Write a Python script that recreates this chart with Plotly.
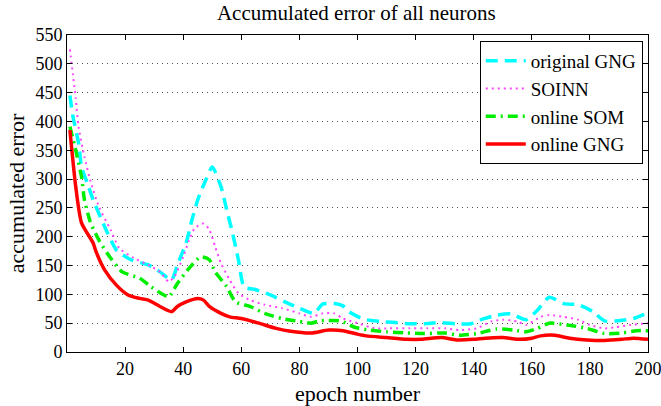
import plotly.graph_objects as go

# ---- data ----
gng_orig_x = [1, 2, 4, 5, 7, 9, 13, 17, 22, 28, 32, 36, 38, 41, 43, 45, 48, 50, 53, 55, 57, 59, 61, 65, 70, 75, 80, 85, 88, 92, 95, 97, 102, 108, 113, 118, 123, 128, 134, 139, 143, 148, 153, 158, 162, 166, 171, 176, 181, 185, 189, 195, 200]
gng_orig_y = [445, 410, 362, 321, 293, 264, 217, 177, 160, 151, 139, 125, 151, 189, 229, 264, 301, 321, 287, 246, 206, 160, 113, 108, 99, 87, 76, 67, 83, 84, 80, 70, 57, 53, 51, 49, 49, 51, 49, 49, 57, 64, 66, 56, 73, 95, 84, 82, 70, 54, 54, 58, 68]

soinn_x = [1, 2, 3, 4, 6, 8, 11, 15, 18, 23, 28, 32, 35, 37, 40, 42, 44, 47, 49, 51, 53, 56, 59, 63, 68, 74, 80, 84, 88, 92, 95, 100, 106, 111, 118, 124, 130, 135, 141, 146, 150, 155, 158, 163, 166, 171, 176, 180, 185, 189, 194, 200]
soinn_y = [525, 483, 440, 390, 339, 298, 252, 212, 180, 163, 151, 139, 122, 131, 165, 194, 215, 223, 212, 183, 154, 125, 102, 90, 82, 76, 67, 61, 67, 67, 58, 50, 41, 41, 41, 41, 41, 38, 41, 53, 56, 53, 47, 61, 64, 61, 56, 47, 41, 43, 47, 50]

som_x = [1, 3, 5, 6, 8, 11, 15, 19, 25, 29, 35, 38, 42, 46, 49, 51, 55, 58, 63, 68, 74, 80, 84, 87, 94, 99, 104, 110, 117, 123, 130, 135, 141, 148, 154, 158, 162, 166, 172, 179, 185, 191, 196, 200]
som_y = [391, 350, 304, 264, 226, 194, 163, 139, 128, 113, 96, 119, 145, 165, 160, 139, 113, 87, 79, 67, 58, 53, 50, 54, 54, 43, 38, 35, 33, 32, 33, 29, 32, 40, 38, 35, 41, 50, 47, 41, 32, 33, 37, 37]

ogng_x = [1, 3, 5, 9, 10, 13, 17, 21, 25, 28, 32, 36, 38, 41, 45, 47, 49, 53, 56, 60, 66, 72, 77, 84, 90, 95, 100, 103, 110, 117, 122, 129, 134, 140, 144, 150, 156, 160, 163, 168, 173, 179, 185, 191, 195, 200]
ogng_y = [385, 287, 224, 189, 174, 142, 116, 99, 93, 90, 79, 70, 79, 87, 93, 90, 79, 67, 61, 58, 50, 41, 36, 33, 38, 37, 31, 28, 25, 22, 22, 25, 21, 22, 24, 25, 22, 24, 28, 29, 24, 21, 20, 22, 24, 22]

x_ticks = [20, 40, 60, 80, 100, 120, 140, 160, 180, 200]
y_ticks = [0, 50, 100, 150, 200, 250, 300, 350, 400, 450, 500, 550]

FONT = "Liberation Serif"

fig = go.Figure()
fig.add_trace(go.Scatter(x=gng_orig_x, y=gng_orig_y, mode="lines", name="original GNG",
                         line=dict(color="#00ffff", width=3.5, dash="12px,7px", shape="spline", smoothing=0.6)))
fig.add_trace(go.Scatter(x=soinn_x, y=soinn_y, mode="lines", name="SOINN",
                         line=dict(color="#ff44ff", width=2, dash="2px,4px", shape="spline", smoothing=0.6)))
fig.add_trace(go.Scatter(x=som_x, y=som_y, mode="lines", name="online SOM",
                         line=dict(color="#00ee00", width=3.5, dash="10px,5px,2px,5px", shape="spline", smoothing=0.6)))
fig.add_trace(go.Scatter(x=ogng_x, y=ogng_y, mode="lines", name="online GNG",
                         line=dict(color="#ff0000", width=3.5, shape="spline", smoothing=0.6)))

fig.update_layout(
    width=661, height=406,
    margin=dict(l=67, r=13, t=35, b=54),
    paper_bgcolor="white", plot_bgcolor="white",
    font=dict(family=FONT, size=18, color="black"),
    title=dict(text="Accumulated error of all neurons", x=0.539, xanchor="center", y=0.97, yanchor="middle",
               font=dict(family=FONT, size=21, color="black")),
    showlegend=True,
    legend=dict(x=0.991, xanchor="right", y=0.981, yanchor="top",
                bgcolor="white", bordercolor="black", borderwidth=1,
                font=dict(family=FONT, size=19, color="black"),
                itemwidth=40, tracegroupgap=0),
    xaxis=dict(range=[0, 200], tickvals=x_ticks, ticktext=[str(v) for v in x_ticks],
               automargin=False, ticklabeloverflow="allow",
               showgrid=False, zeroline=False, showline=True, linecolor="black", linewidth=1,
               mirror="ticks", ticks="inside", ticklen=5, tickcolor="black",
               tickfont=dict(family=FONT, size=18),
               title=dict(text="epoch number", font=dict(family=FONT, size=22), standoff=13)),
    yaxis=dict(range=[0, 550], tickvals=y_ticks, ticktext=[str(v) for v in y_ticks],
               automargin=False, ticklabeloverflow="allow",
               showgrid=True, gridcolor="#555555", griddash="1px,4px", gridwidth=1,
               zeroline=False, showline=True, linecolor="black", linewidth=1,
               mirror="ticks", ticks="inside", ticklen=5, tickcolor="black",
               tickfont=dict(family=FONT, size=18),
               title=dict(text="accumulated error", font=dict(family=FONT, size=22), standoff=4)),
)

fig.write_html("out.html")
